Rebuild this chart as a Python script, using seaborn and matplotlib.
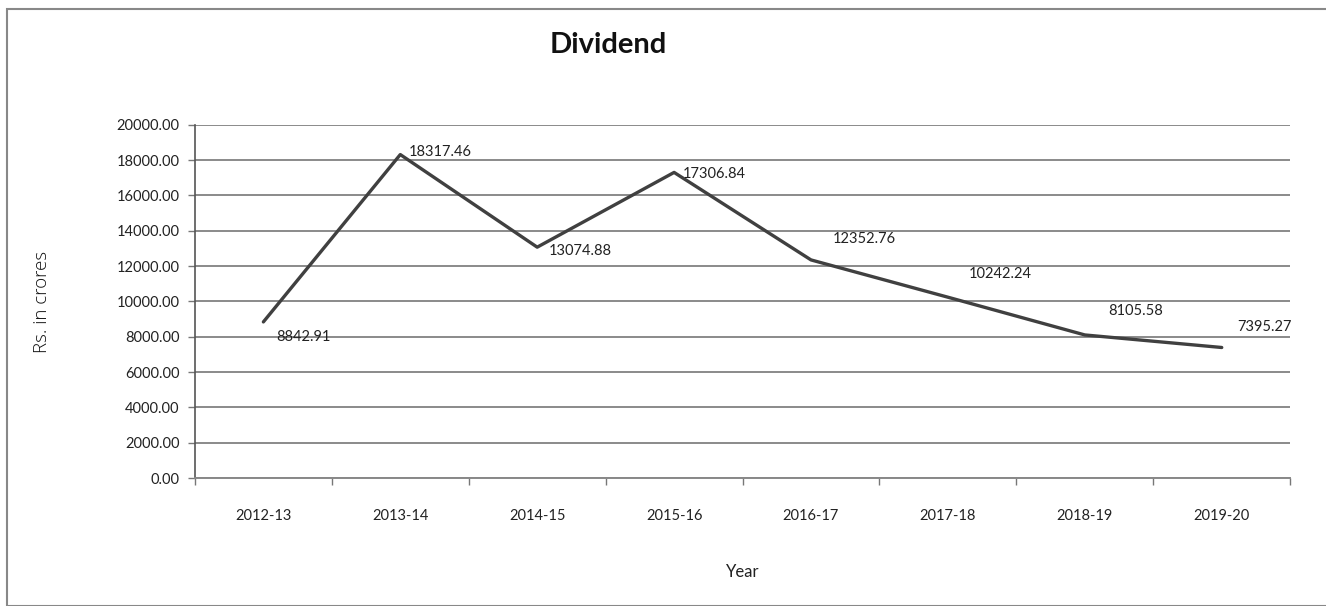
import matplotlib
matplotlib.use("Agg")
import matplotlib.pyplot as plt
import seaborn as sns
import numpy as np
import pandas as pd
from matplotlib.patches import Rectangle

years = ["2012-13", "2013-14", "2014-15", "2015-16", "2016-17", "2017-18", "2018-19", "2019-20"]
dividend = [8842.91, 18317.46, 13074.88, 17306.84, 12352.76, 10242.24, 8105.58, 7395.27]
yticks = [0, 2000, 4000, 6000, 8000, 10000, 12000, 14000, 16000, 18000, 20000]

# label offsets in points (dx, dy)
label_offsets = [(9, -11), (6, 2), (8, -3), (6, -1), (16, 15), (15, 17), (17, 17), (11, 15)]

sns.set_theme(style="white")
plt.rcParams['font.family'] = ['Lato', 'DejaVu Sans']

fig = plt.figure(figsize=(13.26, 6.06), dpi=100)
ax = fig.add_axes([0.147, 0.211, 0.826, 0.583])

df = pd.DataFrame({"pos": np.arange(len(years)), "value": dividend})
sns.lineplot(data=df, x="pos", y="value", ax=ax, color="#404040", linewidth=2.4)

ax.set_xlim(-0.5, len(years) - 0.5)
ax.set_ylim(0, 20000)
ax.set_yticks(yticks)
ax.set_yticklabels([f"{v:.2f}" for v in yticks], fontsize=10.5, color="#222222")
ax.set_xticks(np.arange(len(years)))
ax.set_xticklabels(years, fontsize=10.5, color="#222222")
ax.set_xticks(np.arange(-0.5, len(years), 1.0), minor=True)
ax.tick_params(axis="x", which="major", length=0, pad=22)
ax.tick_params(axis="x", which="minor", length=5, color="#777777", width=1, bottom=True)
ax.tick_params(axis="y", which="major", length=5, color="#777777", width=1, left=True, pad=6)

ax.grid(axis="y", color="#8a8a8a", linewidth=1.4)
ax.grid(axis="x", visible=False)
for s in ["top", "right"]:
    ax.spines[s].set_visible(False)
ax.spines["left"].set_color("#555555")
ax.spines["left"].set_linewidth(1.2)
ax.spines["bottom"].set_color("#888888")
ax.spines["bottom"].set_linewidth(1.4)

for i, (v, (dx, dy)) in enumerate(zip(dividend, label_offsets)):
    ax.annotate(f"{v:.2f}", xy=(i, v), xytext=(dx, dy), textcoords="offset points",
                fontsize=10.5, color="#222222", ha="left", va="center")

ax.set_xlabel("Year", fontsize=12, color="#222222", labelpad=30)
ax.set_ylabel("Rs. in crores", fontsize=13.5, color="#111111", labelpad=47,
              family=["Open Sans", "DejaVu Sans"], fontweight="light")
fig.text(0.459, 0.925, "Dividend", fontsize=21, fontweight="bold", ha="center", va="center",
         color="#111111")

fig.patches.append(Rectangle((0.005, 0.0), 1.2, 0.985, transform=fig.transFigure,
                             fill=False, edgecolor="#888888", linewidth=1.5))

fig.savefig("out.png", dpi=100)
